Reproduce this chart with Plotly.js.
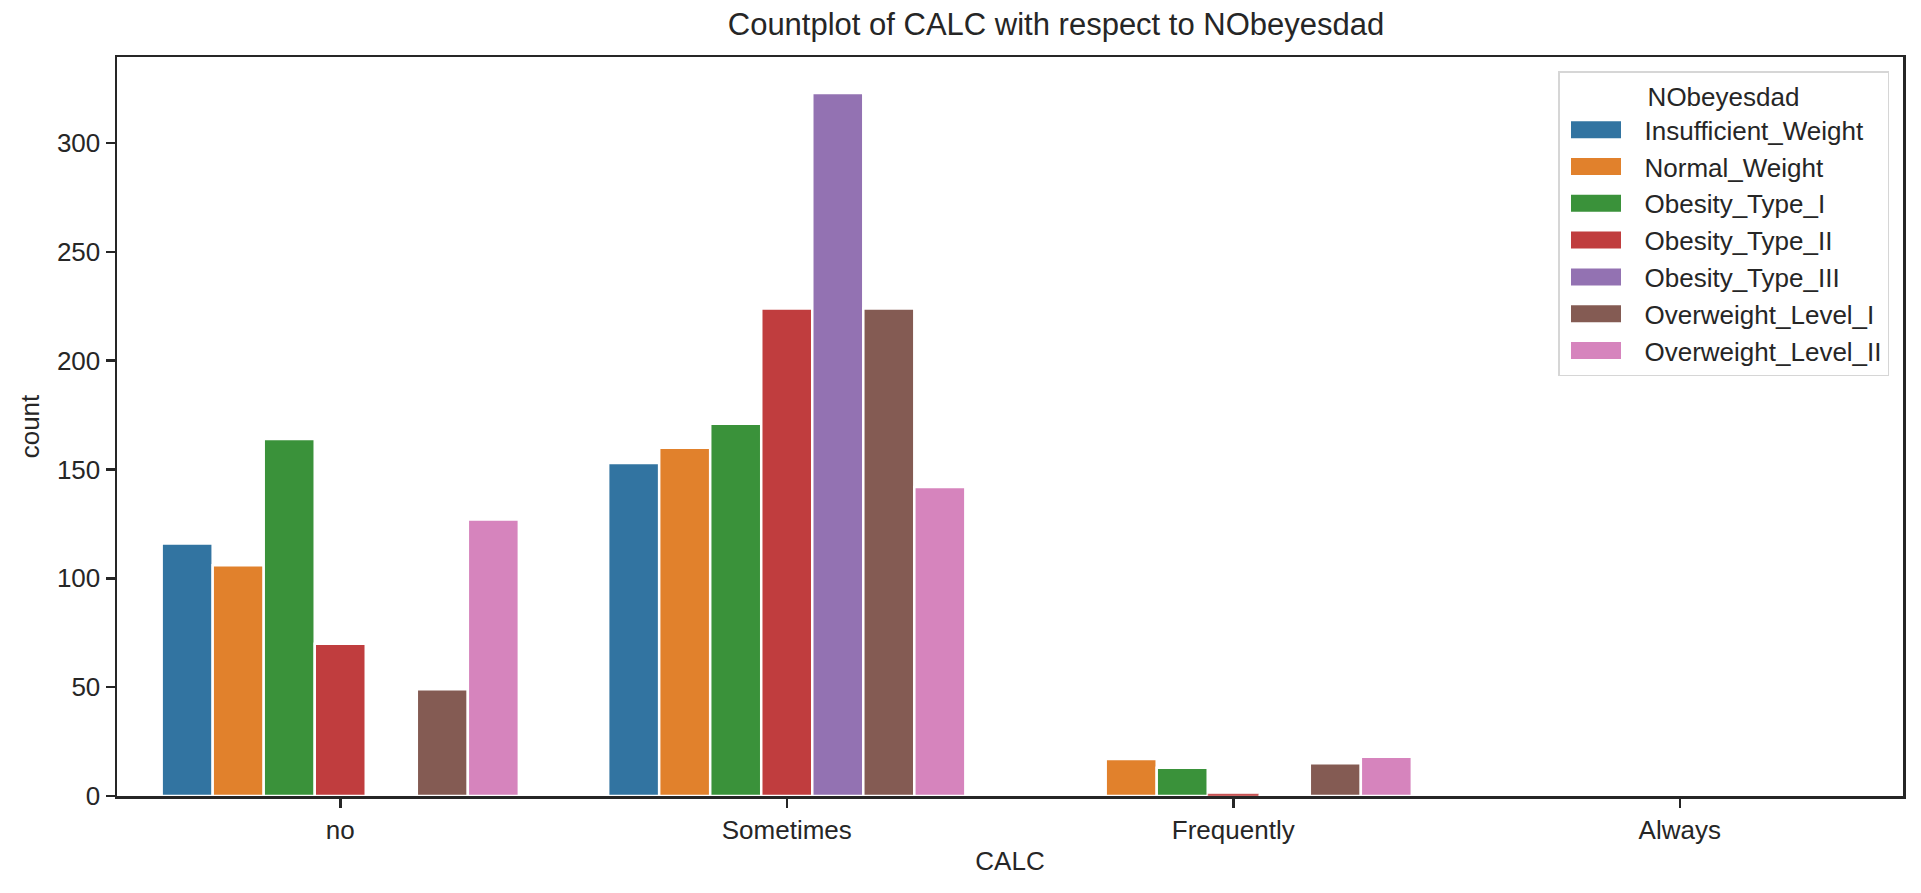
<!DOCTYPE html>
<html>
<head>
<meta charset="utf-8">
<script src="https://cdn.plot.ly/plotly-3.0.1.min.js"></script>
<style>
  html, body { margin: 0; padding: 0; background: #ffffff; }
  #chart { width: 1921px; height: 893px; }
</style>
</head>
<body>
<div id="chart"></div>
<script>
// ---- data ----
const categories = ["no", "Sometimes", "Frequently", "Always"];
const seriesNames = ["Insufficient_Weight", "Normal_Weight", "Obesity_Type_I", "Obesity_Type_II",
                     "Obesity_Type_III", "Overweight_Level_I", "Overweight_Level_II"];
const insufficientWeight = [116, 153, 0, 0];
const normalWeight       = [106, 160, 17, 0];
const obesityTypeI       = [164, 171, 13, 0];
const obesityTypeII      = [70, 224, 1, 0];
const obesityTypeIII     = [0, 323, 0, 0];
const overweightLevelI   = [49, 224, 15, 0];
const overweightLevelII  = [127, 142, 18, 0];
const yTickValues = [0, 50, 100, 150, 200, 250, 300];

// ---- styling ----
const seriesValues = [insufficientWeight, normalWeight, obesityTypeI, obesityTypeII,
                      obesityTypeIII, overweightLevelI, overweightLevelII];
const colors = ["#3274a1", "#e1812c", "#3a923a", "#c03d3e", "#9372b2", "#845b53", "#d684bd"];
const FONT = "'Liberation Sans', Arial, 'DejaVu Sans', sans-serif";
const TXT = "#262626";
const FS = 26;

const traces = seriesNames.map((name, i) => ({
  type: "bar",
  name: name,
  x: categories,
  y: seriesValues[i],
  marker: {
    color: colors[i],
    // thin white edge on very short bars so they stay visible
    line: { color: "#ffffff", width: seriesValues[i].map(v => (v > 0 && v < 3) ? 0.4 : 2.5) }
  },
  hoverinfo: "x+y+name"
}));

const layout = {
  width: 1921,
  height: 893,
  paper_bgcolor: "#ffffff",
  plot_bgcolor: "#ffffff",
  font: { family: FONT, color: TXT, size: FS },
  margin: { l: 117, r: 18, t: 57, b: 97, pad: 0 },
  barmode: "group",
  bargap: 0.2,
  bargroupgap: 0,
  title: {
    text: "Countplot of CALC with respect to NObeyesdad",
    font: { family: FONT, color: TXT, size: 31 },
    x: (117 + 1903) / 2 / 1921,
    xanchor: "center",
    xref: "paper",
    y: 1 - 24.5 / 893,
    yanchor: "middle",
    yref: "container"
  },
  xaxis: {
    type: "category",
    categoryorder: "array",
    categoryarray: categories,
    range: [-0.5, 3.5],
    showgrid: false,
    zeroline: false,
    showline: true,
    linecolor: TXT,
    linewidth: 2.5,
    mirror: true,
    ticks: "outside",
    ticklen: 9,
    tickwidth: 2.5,
    tickcolor: TXT,
    tickfont: { family: FONT, color: TXT, size: FS },
    title: { text: "CALC", font: { family: FONT, color: TXT, size: FS }, standoff: 8 }
  },
  yaxis: {
    range: [0, 339.5],
    tickmode: "array",
    tickvals: yTickValues,
    ticktext: yTickValues.map(String),
    showgrid: false,
    zeroline: false,
    showline: true,
    linecolor: TXT,
    linewidth: 2.5,
    mirror: true,
    ticks: "outside",
    ticklen: 9,
    tickwidth: 2.5,
    tickcolor: TXT,
    tickfont: { family: FONT, color: TXT, size: FS },
    title: { text: "count", font: { family: FONT, color: TXT, size: FS }, standoff: 10 }
  },
  legend: {
    title: { text: "NObeyesdad", side: "top center", font: { family: FONT, color: TXT, size: FS } },
    font: { family: FONT, color: TXT, size: FS },
    bgcolor: "rgba(255,255,255,0.85)",
    bordercolor: "#d6d6d6",
    borderwidth: 1.5,
    x: (1889 - 117) / 1786,
    xanchor: "right",
    y: (796 - 71) / 739,
    yanchor: "top",
    itemwidth: 75,
    traceorder: "normal"
  },
  showlegend: true
};

Plotly.newPlot("chart", traces, layout, { displayModeBar: false, staticPlot: true }).then(() => {
  // make legend swatches wide rectangles like the reference
  document.querySelectorAll("#chart .legend .legendpoints path").forEach(p => {
    p.setAttribute("d", "M-31,-8.5H19V8.5H-31Z");
    p.style.strokeWidth = "0px";
  });
});
</script>
</body>
</html>
